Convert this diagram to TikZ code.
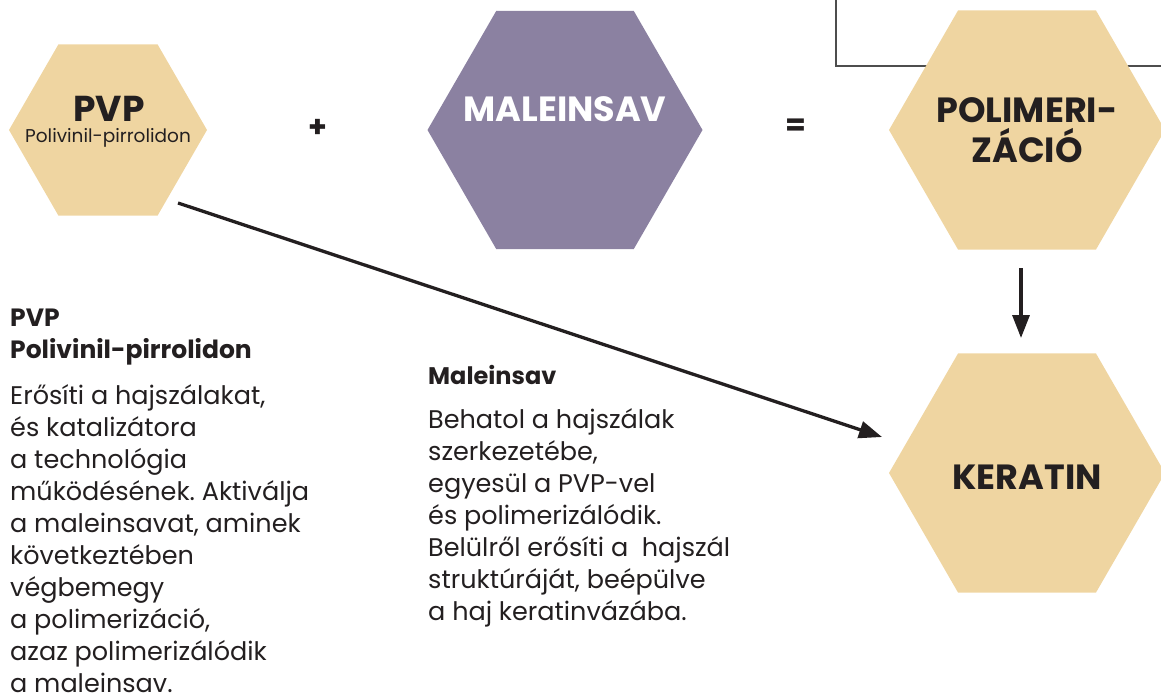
\documentclass[tikz,border=0pt]{standalone}
\usepackage{fontspec}
\setmainfont{Poppins}
\frenchspacing
\usetikzlibrary{shapes.geometric,arrows.meta,calc}
\definecolor{beige}{HTML}{EFD5A1}
\definecolor{lilac}{HTML}{8B81A1}
\definecolor{ink}{HTML}{231F20}
\definecolor{framegray}{HTML}{4D4D4D}
\tikzset{
  hexa/.style={regular polygon, regular polygon sides=6, inner sep=0pt, draw=none},
  arr/.style={draw=ink, line width=3.3pt, -{Triangle[length=23pt,width=17pt]}},
  hexlabel/.style={text=ink, font=\bfseries\fontsize{35}{40}\selectfont, align=center, inner sep=0pt},
  bodytext/.style={text=ink, font=\fontsize{25.5}{32}\selectfont, align=left, inner sep=0pt, anchor=base west},
  headtext/.style={text=ink, font=\bfseries\fontsize{25}{32}\selectfont, align=left, inner sep=0pt, anchor=base west},
  opsign/.style={text=ink, font=\bfseries\fontsize{30}{30}\selectfont, inner sep=0pt},
  frameline/.style={draw=framegray, line width=1.5pt}
}
\begin{document}
\begin{tikzpicture}[x=1pt,y=-1pt]
\useasboundingbox (0,0) rectangle (1161,695);
% frame at top right (behind the hexagon)
\draw[frameline] (836,-5) -- (836,66) -- (1170,66);
% hexagons
\node[hexa, fill=beige, minimum size=198pt] (pvp) at (108,130) {};
\node[hexa, fill=lilac, minimum size=275pt] (mal) at (565,130) {};
\node[hexa, fill=beige, minimum size=276pt] (pol) at (1027,130) {};
\node[hexa, fill=beige, minimum size=276pt] (ker) at (1027,473) {};
% hexagon labels
\node[hexlabel, font=\bfseries\fontsize{36}{40}\selectfont, anchor=base] (pvpt) at (109,122) {PVP};
\node[text=ink, font=\fontsize{18.5}{20}\selectfont, inner sep=0pt, anchor=base] (pvps) at (108,143) {Polivinil-pirrolidon};
\node[hexlabel, text=white, anchor=base] (malt) at (565,122) {MALEINSAV};
\node[hexlabel, anchor=base] (polt) at (1027,163) {POLIMERI-\\ZÁCIÓ};
\node[hexlabel, anchor=base] (kert) at (1027,489) {KERATIN};
% operators
\node[opsign] (plus) at (318,128) {+};
\node[opsign] (eq) at (796,127) {=};
% connectors
\coordinate (s1) at ($(pvp.center)+(70,73)$);
\coordinate (e1) at ($(ker.center)+(-145,-36)$);
\draw[arr] (s1) -- (e1);
\coordinate (s2) at ($(pol.center)+(-6,138)$);
\coordinate (e2) at ($(ker.center)+(-6,-135)$);
\draw[arr] (s2) -- (e2);
% texts (base anchor = baseline of the last line)
\node[headtext] (h1) at (10,358) {PVP\\Polivinil-pirrolidon};
\node[bodytext] (b1) at (10,692) {Erősíti a hajszálakat,\\és katalizátora\\a technológia\\működésének. Aktiválja\\a maleinsavat, aminek\\következtében\\végbemegy\\a polimerizáció,\\azaz polimerizálódik\\a maleinsav.};
\node[headtext, font=\bfseries\fontsize{24}{32}\selectfont] (h2) at (428,384) {Maleinsav};
\node[bodytext] (b2) at (428,620) {Behatol a hajszálak\\szerkezetébe,\\egyesül a PVP-vel\\és polimerizálódik.\\Belülről erősíti a\ \ hajszál\\struktúráját, beépülve\\a haj keratinvázába.};
\end{tikzpicture}
\end{document}
